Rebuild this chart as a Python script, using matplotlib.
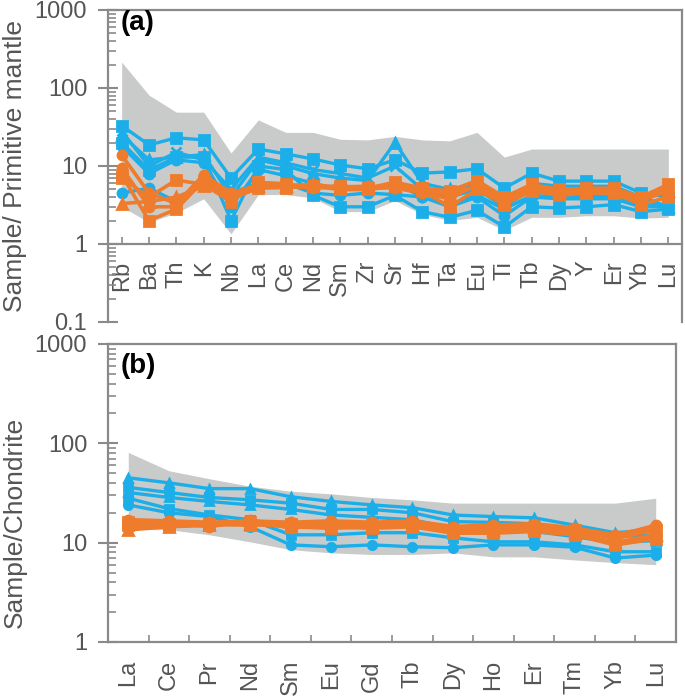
import matplotlib
matplotlib.use('Agg')
import matplotlib.pyplot as plt
from matplotlib.ticker import FixedLocator, FixedFormatter, NullFormatter

plt.rcParams['font.family'] = ['Liberation Sans', 'DejaVu Sans']

# ---------------- Panel (a): primitive-mantle normalised ----------------
pm_elements = ['Rb', 'Ba', 'Th', 'K', 'Nb', 'La', 'Ce', 'Nd', 'Sm', 'Zr', 'Sr',
               'Hf', 'Ta', 'Eu', 'Ti', 'Tb', 'Dy', 'Y', 'Er', 'Yb', 'Lu']
pm_env_upper = [215, 81, 49, 49, 14.7, 39, 27, 27, 22, 21.6, 24, 21.6, 21, 27, 13,
                16.5, 16.5, 16.5, 16.5, 16.5, 16.5]
pm_env_lower = [3.0, 1.9, 2.5, 3.8, 1.35, 4.3, 4.3, 3.9, 2.6, 2.6, 3.6, 2.4, 2.0, 2.2,
                1.5, 2.2, 2.2, 2.3, 2.3, 2.15, 2.2]

pm_blue1 = [33, 18.6, 23, 21.6, 7, 16.5, 14.3, 12.3, 10.3, 9.2, 12, 8.1, 8.4, 9.2,
            5.2, 8.1, 6.4, 6.4, 6.4, 4.5, 4.0]
pm_blue2 = [25, 12, 13, 14, 4, 12, 10, 8, 7, 6.5, 20, 6, 5, 6, 3.5, 6, 5.5, 5.5,
            5.5, 4, 3]
pm_blue3 = [4.5, 5.2, 3.5, 6, 4.5, 6, 6, 4.5, 4.2, 4.5, 4.3, 4.0, 3.2, 4.2, 2.8,
            4.2, 4.0, 3.9, 3.9, 3.2, 3.0]
pm_blue4 = [20, 8.9, 13, 13, 2.0, 10, 9, 4.2, 3.0, 3.0, 4.2, 2.6, 2.2, 2.7, 1.65,
            3.0, 2.9, 3.0, 3.2, 2.6, 2.8]
pm_blue5 = [28, 10, 15, 12, 5, 13, 11, 9, 8, 7, 10, 5, 4, 5, 3, 5, 4.5, 4.2, 4.0,
            3.5, 3.0]
pm_blue6 = [18, 8, 12, 11, 3, 9, 7.5, 6, 5, 5, 6, 4, 3, 4, 2.3, 4, 3.8, 3.8, 3.8,
            3.0, 3.0]

pm_orange1 = [13.8, 4.5, 3.3, 7.7, 4.5, 5.7, 5.5, 5.5, 5.3, 5.2, 5.3, 5.0, 4.5, 5.5,
              3.8, 5.5, 4.8, 4.8, 4.8, 3.8, 5.5]
pm_orange2 = [7.7, 2.0, 2.8, 6.5, 3.8, 5.2, 5.3, 5.5, 5.0, 5.0, 5.5, 4.8, 3.0, 5.0,
              3.2, 4.8, 4.2, 4.5, 4.5, 3.2, 4.0]
pm_orange3 = [3.3, 3.5, 4.0, 5.5, 4.0, 5.5, 5.5, 5.8, 5.2, 5.3, 5.6, 5.0, 4.2, 5.5,
              3.6, 5.0, 4.6, 4.6, 4.6, 3.6, 4.8]
pm_orange4 = [7.0, 4.0, 6.6, 5.8, 3.5, 6.2, 5.8, 5.5, 5.5, 5.2, 6.2, 5.2, 4.8, 6.5,
              4.0, 5.8, 5.0, 5.2, 5.2, 4.0, 5.8]
pm_orange5 = [9.5, 3.0, 3.0, 7.0, 4.2, 5.8, 5.6, 5.2, 5.4, 5.5, 5.2, 4.5, 3.8, 5.8,
              3.5, 5.2, 4.6, 4.6, 4.6, 3.5, 5.2]

# ---------------- Panel (b): chondrite normalised REE ----------------
ree_elements = ['La', 'Ce', 'Pr', 'Nd', 'Sm', 'Eu', 'Gd', 'Tb', 'Dy', 'Ho', 'Er',
                'Tm', 'Yb', 'Lu']
ree_env_upper = [81, 53, 44, 37, 33, 31, 28.5, 27, 25, 25, 25, 25, 25, 28]
ree_env_lower = [13.6, 13.5, 12, 10.2, 8.5, 7.9, 7.6, 7.6, 7.9, 7.2, 7.2, 6.7, 6.3, 6.0]

ree_blue1 = [45, 40, 35, 35, 29, 26, 24, 22.5, 19, 18.3, 17.8, 15, 12.6, 13.5]
ree_blue2 = [36, 32, 28.5, 27, 25, 21.6, 21.6, 20, 16.3, 16, 15.5, 13, 11.5, 12]
ree_blue3 = [32, 28.5, 26, 24, 21.6, 19, 18, 17, 14, 13.5, 13, 11.5, 10, 10.5]
ree_blue4 = [24, 20, 18.3, 14.5, 9.5, 9.1, 9.5, 9.1, 8.9, 9.5, 9.5, 9.0, 7.0, 7.5]
ree_blue5 = [28, 22, 19, 17, 12, 12, 12.6, 12.6, 11.2, 10.2, 10.2, 9.5, 8.1, 8.1]

ree_orange1 = [17, 16.5, 16, 16.5, 16, 16.5, 16, 16.5, 14.5, 15, 15.5, 14, 12, 14.5]
ree_orange2 = [15, 15.5, 15, 16, 15, 15, 15, 15.5, 13.5, 14, 14.5, 13.5, 11, 13.5]
ree_orange3 = [13.5, 14.5, 15, 15.5, 14.5, 14, 14.5, 15, 13, 13.5, 14, 12.5, 10, 12]
ree_orange4 = [16, 15, 15.5, 15, 15.5, 14.5, 14, 14.5, 12.5, 12.5, 13, 12, 9.5, 11]
ree_orange5 = [14.5, 16, 14.5, 17, 14, 15.5, 15.5, 16, 14, 14.5, 15, 13, 11.5, 15]

BLUE = '#1CAEE8'
ORANGE = '#EF7B2C'
ENV = '#C9CACA'
AXC = '#8A8A8A'
TXT = '#555555'

W, H = 685, 699
fig = plt.figure(figsize=(W / 100, H / 100), dpi=100)


def fx(px):
    return px / W


def fy(py):
    return 1 - py / H


ax_a = fig.add_axes([fx(108), fy(322), fx(682) - fx(108), fy(10) - fy(322)])
ax_b = fig.add_axes([fx(108), fy(642), fx(676) - fx(108), fy(344) - fy(642)])


def style_y(ax, majors, labels):
    ax.set_yscale('log')
    ax.yaxis.set_major_locator(FixedLocator(majors))
    ax.yaxis.set_major_formatter(FixedFormatter(labels))
    minors = [m * k for m in majors[:-1] for k in range(2, 10)]
    ax.yaxis.set_minor_locator(FixedLocator(minors))
    ax.yaxis.set_minor_formatter(NullFormatter())
    ax.tick_params(axis='y', which='major', direction='inout', length=14, width=1.5,
                   color=AXC, labelsize=17, labelcolor=TXT, pad=8)
    ax.tick_params(axis='y', which='minor', direction='in', length=6, width=1.2,
                   color=AXC)
    for s in ax.spines.values():
        s.set_color(AXC)
        s.set_linewidth(1.6)


markers_blue = ['s', '^', 'o', 's', 'x', 'o']
markers_orange = ['o', 's', '^', 's', 'o']

# ---- panel (a)
xa = list(range(len(pm_elements)))
ax_a.fill_between(xa, pm_env_lower, pm_env_upper, color=ENV, lw=0, zorder=1)
for i, s in enumerate([pm_blue1, pm_blue2, pm_blue3, pm_blue4, pm_blue5, pm_blue6]):
    ax_a.plot(xa, s, color=BLUE, lw=2.4, marker=markers_blue[i], ms=6.5, mew=2,
              zorder=3)
for i, s in enumerate([pm_orange1, pm_orange2, pm_orange3, pm_orange4, pm_orange5]):
    ax_a.plot(xa, s, color=ORANGE, lw=2.6, marker=markers_orange[i], ms=6.5, mew=2,
              zorder=4)
ax_a.set_xlim(-0.5, len(pm_elements) - 0.5)
ax_a.set_ylim(0.1, 1000)
style_y(ax_a, [0.1, 1, 10, 100, 1000], ['0.1', '1', '10', '100', '1000'])
ax_a.spines['bottom'].set_position(('data', 1))
ax_a.set_xticks(xa)
ax_a.set_xticklabels(pm_elements, rotation=90)
ax_a.tick_params(axis='x', which='major', direction='in', length=5, width=1.2,
                 color=AXC, labelsize=17, labelcolor=TXT, pad=12)

# ---- panel (b)
xb = list(range(len(ree_elements)))
ax_b.fill_between(xb, ree_env_lower, ree_env_upper, color=ENV, lw=0, zorder=1)
for i, s in enumerate([ree_blue1, ree_blue2, ree_blue3, ree_blue4, ree_blue5]):
    ax_b.plot(xb, s, color=BLUE, lw=2.4, marker=['^', 's', '^', 'o', 's'][i], ms=6,
              mew=2, zorder=3)
for i, s in enumerate([ree_orange1, ree_orange2, ree_orange3, ree_orange4,
                       ree_orange5]):
    ax_b.plot(xb, s, color=ORANGE, lw=2.8, marker=markers_orange[i], ms=6.5, mew=2,
              zorder=4)
ax_b.set_xlim(-0.5, len(ree_elements) - 0.5)
ax_b.set_ylim(1, 1000)
style_y(ax_b, [1, 10, 100, 1000], ['1', '10', '100', '1000'])
ax_b.set_xticks(xb)
ax_b.set_xticklabels(ree_elements, rotation=90)
ax_b.set_xticks([x + 0.5 for x in xb[:-1]], minor=True)
ax_b.tick_params(axis='x', which='major', length=0, labelsize=17, labelcolor=TXT,
                 pad=13)
ax_b.tick_params(axis='x', which='minor', direction='in', length=5, width=1.2,
                 color=AXC)

fig.text(fx(121), fy(23), '(a)', fontsize=20, fontweight='bold', color='black',
         ha='left', va='center')
fig.text(fx(121), fy(366), '(b)', fontsize=20, fontweight='bold', color='black',
         ha='left', va='center')
fig.text(fx(15), fy(166), 'Sample/ Primitive mantle', rotation=90, fontsize=19,
         color=TXT, ha='center', va='center')
fig.text(fx(15), fy(522), 'Sample/Chondrite', rotation=90, fontsize=19,
         color=TXT, ha='center', va='center')

fig.savefig('out.png', dpi=100)
